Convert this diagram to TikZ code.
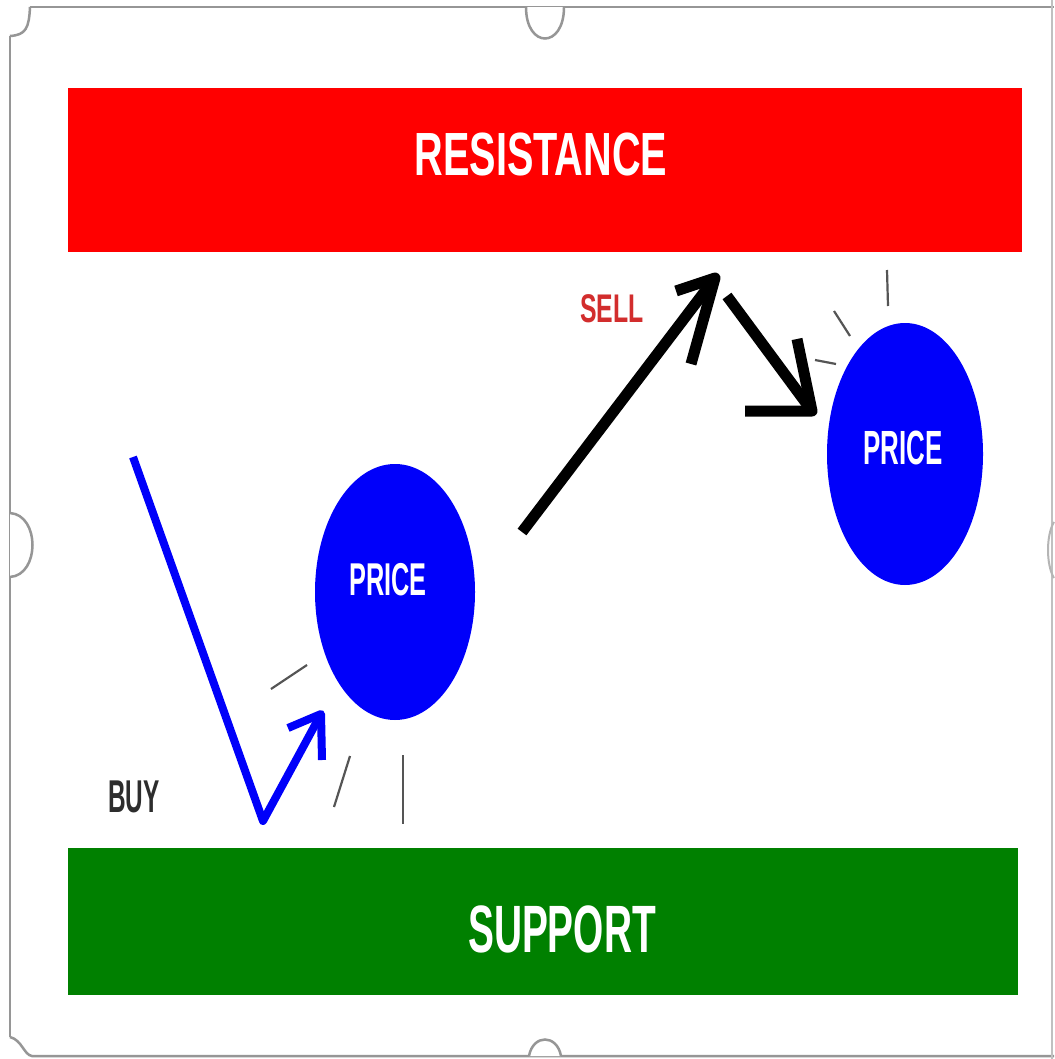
\documentclass[tikz,border=0pt]{standalone}
\usepackage{fontspec}
\setmainfont{Liberation Sans}
\usetikzlibrary{shapes.geometric}
\definecolor{resred}{RGB}{255,0,0}
\definecolor{supgreen}{RGB}{0,128,0}
\definecolor{priceblue}{RGB}{0,0,250}
\definecolor{sellred}{RGB}{210,45,45}
\definecolor{buygray}{RGB}{45,45,45}
\definecolor{framegray}{RGB}{150,150,150}
\definecolor{tickgray}{RGB}{85,85,85}
\newcommand{\cond}[3]{\scalebox{#2}[1]{\fontsize{#1}{#1}\selectfont\bfseries #3}}
\begin{document}
\begin{tikzpicture}[x=1pt,y=-1pt,
  band/.style={draw=none,inner sep=0pt,outer sep=0pt},
  blob/.style={ellipse,fill=priceblue,draw=none,inner sep=0pt},
  lbl/.style={inner sep=0pt,text=white},
  frame/.style={draw=framegray,line width=2.5pt},
  tick/.style={draw=tickgray,line width=2.2pt},
  blueline/.style={draw=priceblue,line width=8pt,line join=round},
  blackline/.style={draw=black,line width=11pt,line join=round}]
\useasboundingbox (0,0) rectangle (1054,1059);
\fill[white] (0,0) rectangle (1054,1059);

% frame with handles
\draw[frame] (30,7) -- (1054,7);
\draw[frame] (30,7) .. controls (29,28) and (26,35) .. (10,36);
\draw[frame] (10,36) -- (10,1037);
\draw[frame] (10,1037) .. controls (22,1040) and (24,1055) .. (32,1056) -- (1054,1056);
\draw[draw=framegray!60,line width=2pt] (1052,0) -- (1052,1059);
\filldraw[frame,fill=white] (526,7) .. controls (526,49) and (564,49) .. (564,7);
\filldraw[frame,fill=white] (10,513) .. controls (40,515) and (40,575) .. (10,577);
\filldraw[frame,fill=white] (529,1056) .. controls (533,1034) and (557,1034) .. (561,1056);
\draw[draw=framegray!70,line width=2pt] (1054,522) .. controls (1046,535) and (1046,565) .. (1054,578);

% bands
\node[band,fill=resred,minimum width=954pt,minimum height=164pt] (resbox) at (545,170) {};
\node[lbl] (restext) at (541,155) {\cond{61}{0.65}{RESISTANCE}};
\node[band,fill=supgreen,minimum width=950pt,minimum height=147pt] (supbox) at (543,921.5) {};
\node[lbl] (suptext) at (562,929) {\cond{67}{0.58}{SUPPORT}};

% price blobs
\node[blob,minimum width=160pt,minimum height=256pt] (p1) at (395,592) {};
\node[lbl] (p1t) at (388,580) {\cond{46}{0.55}{PRICE}};
\node[blob,minimum width=156pt,minimum height=262pt] (p2) at (905,454) {};
\node[lbl] (p2t) at (903,448) {\cond{48}{0.54}{PRICE}};

% labels
\node[inner sep=0pt,text=sellred] (sell) at (612,309) {\cond{40}{0.62}{SELL}};
\node[inner sep=0pt,text=buygray] (buy) at (134,797) {\cond{46}{0.53}{BUY}};

% blue arrow
\coordinate (b0) at (133,457);
\coordinate (b1) at (263,821);
\coordinate (b2) at (321,714);
\coordinate (ba1) at (288,728);
\coordinate (ba2) at (322,760);
\draw[blueline] (b0) -- (b1) -- (b2);
\draw[blueline] (ba1) -- (b2) -- (ba2);

% black arrows
\coordinate (k0) at (522,532);
\coordinate (k1) at (715,278);
\coordinate (ka1) at (676,291);
\coordinate (ka2) at (691,364);
\draw[blackline] (k0) -- (k1);
\draw[blackline] (ka1) -- (k1) -- (ka2);
\coordinate (m0) at (727,296);
\coordinate (m1) at (812,411);
\coordinate (ma1) at (745,411);
\coordinate (ma2) at (797,339);
\draw[blackline] (m0) -- (m1);
\draw[blackline] (ma1) -- (m1) -- (ma2);

% thin tick marks
\coordinate (t1a) at (271,689); \coordinate (t1b) at (307,665);
\coordinate (t2a) at (334,807); \coordinate (t2b) at (350,756);
\coordinate (t3a) at (403,755); \coordinate (t3b) at (403,824);
\coordinate (t4a) at (815,360); \coordinate (t4b) at (836,364);
\coordinate (t5a) at (834,311); \coordinate (t5b) at (850,336);
\coordinate (t6a) at (887,270); \coordinate (t6b) at (888,306);
\draw[tick] (t1a) -- (t1b);
\draw[tick] (t2a) -- (t2b);
\draw[tick] (t3a) -- (t3b);
\draw[tick] (t4a) -- (t4b);
\draw[tick] (t5a) -- (t5b);
\draw[tick] (t6a) -- (t6b);
\end{tikzpicture}
\end{document}
